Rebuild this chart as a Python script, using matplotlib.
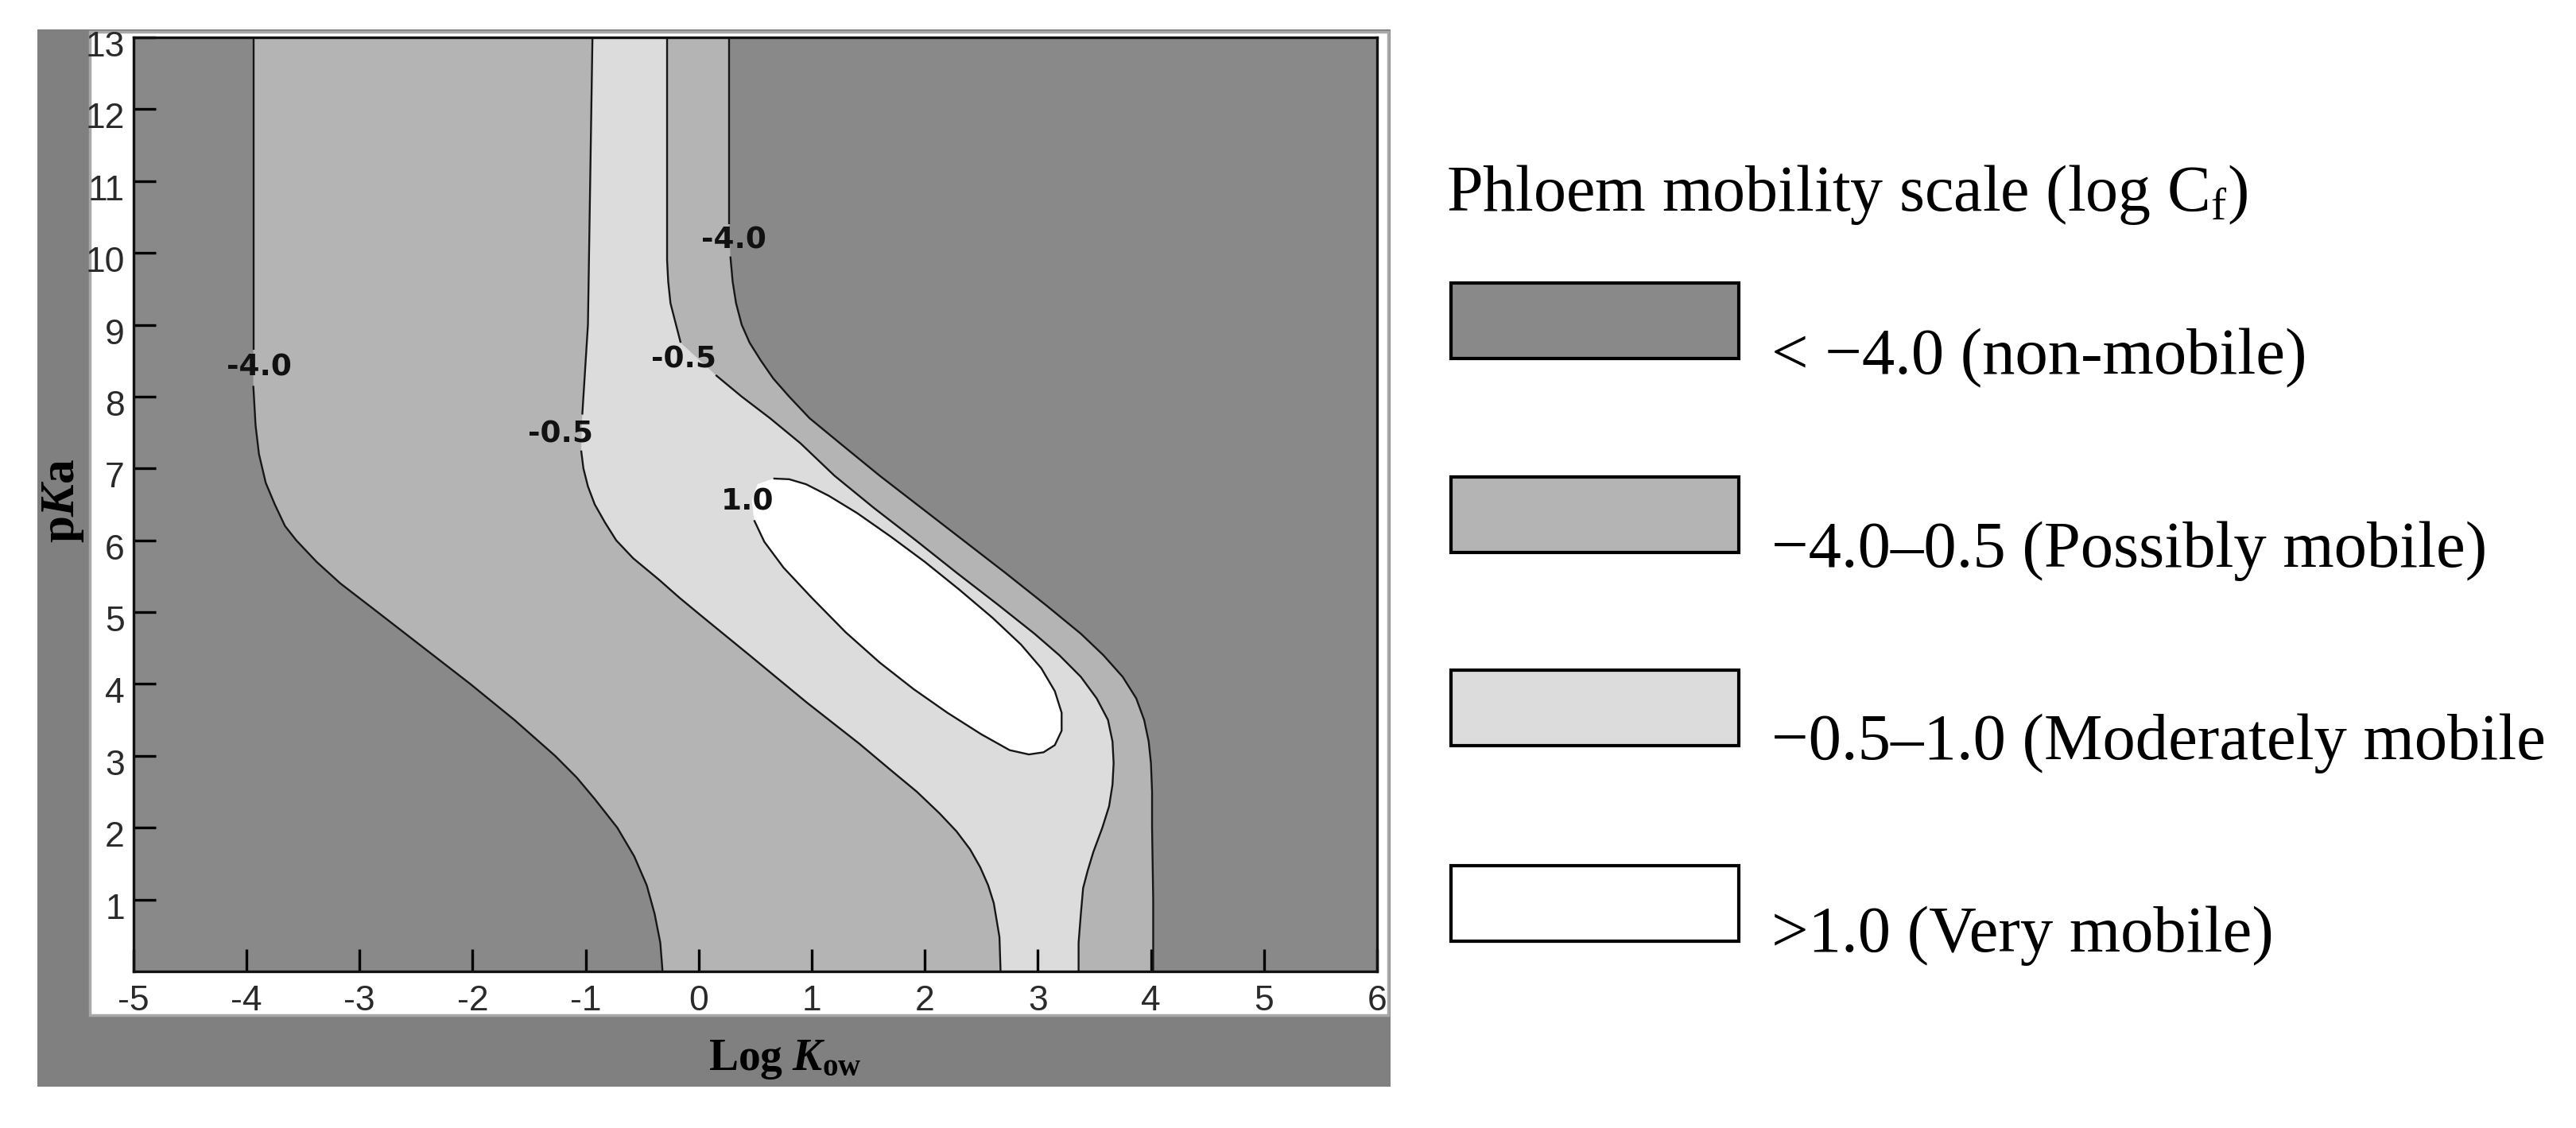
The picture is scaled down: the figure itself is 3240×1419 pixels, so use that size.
import matplotlib
matplotlib.use('agg')

import numpy as np
import matplotlib.pyplot as plt
import matplotlib.transforms as mtransforms
from matplotlib import font_manager
from matplotlib.patches import Rectangle

# contour lines: (log Kow, pKa), top to bottom
left_m4_y = [13.0, 8.65, 8.15, 7.6, 7.2, 6.8, 6.5, 6.2, 6.0, 5.7, 5.4, 5.0, 4.5, 4.0,
             3.5, 3.0, 2.7, 2.4, 2.0, 1.6, 1.2, 0.8, 0.4, 0.0]
left_m4_x = [-3.94, -3.94, -3.94, -3.92, -3.89, -3.83, -3.75, -3.66, -3.56, -3.38, -3.17,
             -2.84, -2.43, -2.02, -1.63, -1.27, -1.08, -0.92, -0.72, -0.57, -0.46, -0.39,
             -0.34, -0.32]

left_m05_y = [13.0, 9.0, 8.0, 7.75, 7.25, 7.0, 6.75, 6.5, 6.25, 6.0, 5.75, 5.45, 5.2, 4.94,
              4.4, 3.75, 3.17, 2.8, 2.5, 2.2, 1.95, 1.7, 1.45, 1.2, 0.95, 0.48, 0.0]
left_m05_x = [-0.94, -0.98, -1.02, -1.03, -1.04, -1.02, -0.98, -0.92, -0.83, -0.73, -0.58,
              -0.35, -0.17, 0.03, 0.45, 0.95, 1.42, 1.70, 1.93, 2.13, 2.28, 2.40, 2.49,
              2.56, 2.61, 2.66, 2.67]

right_m05_y = [13.0, 9.9, 9.6, 9.3, 8.75, 8.3, 8.0, 7.7, 7.35, 6.9, 6.45, 6.0, 5.55, 5.1,
               4.7, 4.4, 4.1, 3.8, 3.5, 3.2, 2.9, 2.6, 2.3, 2.0, 1.66, 1.4, 1.16, 0.8, 0.4, 0.0]
right_m05_x = [-0.28, -0.28, -0.27, -0.25, -0.16, 0.15, 0.38, 0.63, 0.90, 1.20, 1.55, 1.92,
               2.28, 2.65, 2.97, 3.19, 3.38, 3.52, 3.62, 3.66, 3.67, 3.66, 3.63, 3.57, 3.49,
               3.44, 3.40, 3.38, 3.36, 3.36]

right_m4_y = [13.0, 10.4, 9.95, 9.6, 9.3, 9.0, 8.75, 8.5, 8.25, 8.0, 7.7, 7.35, 6.9, 6.45,
              6.0, 5.55, 5.1, 4.7, 4.4, 4.1, 3.8, 3.5, 3.2, 2.9, 2.5, 2.0, 1.0, 0.0]
right_m4_x = [0.27, 0.27, 0.28, 0.30, 0.33, 0.38, 0.45, 0.55, 0.66, 0.80, 0.98, 1.25, 1.60,
              1.97, 2.34, 2.71, 3.07, 3.38, 3.58, 3.75, 3.87, 3.94, 3.98, 4.0, 4.01, 4.01,
              4.02, 4.02]

# closed 1.0 contour, starting right of its label, going clockwise
ell_x = [0.66, 0.80, 0.95, 1.15, 1.40, 1.70, 2.00, 2.30, 2.60, 2.85, 3.03, 3.15, 3.21, 3.21,
         3.15, 3.05, 2.92, 2.75, 2.50, 2.20, 1.90, 1.60, 1.30, 1.00, 0.75, 0.58, 0.49,
         0.47, 0.52]
ell_y = [6.86, 6.85, 6.78, 6.62, 6.38, 6.05, 5.70, 5.32, 4.92, 4.55, 4.22, 3.90, 3.60, 3.35,
         3.15, 3.05, 3.02, 3.08, 3.30, 3.60, 3.93, 4.30, 4.72, 5.20, 5.62, 5.98, 6.28,
         6.55, 6.78]

clabel_text = ['-4.0', '-0.5', '-0.5', '-4.0', '1.0']
clabel_x = [-3.89, -1.22, -0.13, 0.31, 0.43]
clabel_y = [8.40, 7.47, 8.51, 10.17, 6.53]

legend_title = 'Phloem mobility scale (log C$_{\\mathregular{f}}$)'
legend_labels = ['< \u22124.0 (non-mobile)', '\u22124.0\u20130.5 (Possibly mobile)',
                 '\u22120.5\u20131.0 (Moderately mobile', '>1.0 (Very mobile)']
colors = ['#898989', '#b4b4b4', '#dcdcdc', '#ffffff']

names = {f.name for f in font_manager.fontManager.ttflist}
narrow = 'Liberation Sans Narrow' if 'Liberation Sans Narrow' in names else 'Liberation Sans'
tick_size = 35 if narrow == 'Liberation Sans Narrow' else 32

plt.rcParams['mathtext.fontset'] = 'custom'
plt.rcParams['mathtext.rm'] = 'Liberation Serif'
plt.rcParams['mathtext.bf'] = 'Liberation Serif:bold'
plt.rcParams['mathtext.it'] = 'Liberation Serif:italic'
plt.rcParams['mathtext.bfit'] = 'Liberation Serif:italic:bold'

fig = plt.figure(figsize=(32.41, 14.19), dpi=100)

# grey frame around the plot
fig.add_artist(Rectangle((0.0145, 0.0366), 0.5252, 0.9373, transform=fig.transFigure,
                         fc='#808080', ec='none', zorder=0))
fig.add_artist(Rectangle((0.0349, 0.1001), 0.5039, 0.8717, transform=fig.transFigure,
                         fc='white', ec='#a8a8a8', lw=2.5, zorder=0))

ax = fig.add_axes([0.0518, 0.1388, 0.4826, 0.8281])
ax.set_facecolor(colors[0])
ax.set_xlim(-5, 6)
ax.set_ylim(0, 13)

ax.fill(np.r_[left_m4_x, right_m4_x[::-1]], np.r_[left_m4_y, right_m4_y[::-1]],
        color=colors[1], lw=0)
ax.fill(np.r_[left_m05_x, right_m05_x[::-1]], np.r_[left_m05_y, right_m05_y[::-1]],
        color=colors[2], lw=0)
ax.fill(ell_x, ell_y, color=colors[3], lw=0)

line_kw = dict(color='#161616', lw=1.7, solid_capstyle='butt')


def draw_line(xs, ys, lo, hi):
  xs = np.asarray(xs)
  ys = np.asarray(ys)
  up = ys >= hi
  dn = ys <= lo
  ax.plot(xs[up], ys[up], **line_kw)
  ax.plot(xs[dn], ys[dn], **line_kw)


draw_line(left_m4_x, left_m4_y, 8.15, 8.65)
draw_line(left_m05_x, left_m05_y, 7.25, 7.75)
draw_line(right_m05_x, right_m05_y, 8.3, 8.75)
draw_line(right_m4_x, right_m4_y, 9.95, 10.4)
ax.plot(ell_x[:-2], ell_y[:-2], **line_kw)

for t, x, y in zip(clabel_text, clabel_x, clabel_y):
  ax.text(x, y, t, ha='center', va='center', fontsize=27, fontweight='bold',
          family='DejaVu Sans', color='#111111')

ax.set_xticks(range(-5, 7))
ax.set_xticklabels([str(v) for v in range(-5, 7)])
ax.set_yticks(range(1, 14))
ax.set_yticklabels([str(v) for v in range(1, 14)])
ax.tick_params(direction='in', length=20, width=2.4, color='black', labelcolor='#2a2a2a',
               labelsize=tick_size)
ax.tick_params(axis='x', pad=12)
ax.tick_params(axis='y', pad=8)
shift = mtransforms.ScaledTranslation(0, -0.08, fig.dpi_scale_trans)
for lab in ax.get_xticklabels():
  lab.set_family(narrow)
for lab in ax.get_yticklabels():
  lab.set_family(narrow)
  lab.set_transform(lab.get_transform() + shift)
for s in ax.spines.values():
  s.set_linewidth(2.4)
  s.set_color('#111111')

fig.text(0.3045, 0.0606, r'$\mathbf{Log}\ \mathbfit{K}_{\mathbf{ow}}$', ha='center',
         va='center', fontsize=40, color='black')
fig.text(0.0241, 0.556, r'$\mathbf{p}\mathbfit{K}\mathbf{a}$', ha='center', va='center',
         rotation=90, fontsize=44, color='black')

# legend on the right
fig.text(0.5612, 1 - 265 / 1419, legend_title, family='Liberation Serif', fontsize=59,
         va='baseline', ha='left')
box_tops = [356, 600, 843, 1089]
text_base = [470, 713, 955, 1197]
for c, lab, top, base in zip(colors, legend_labels, box_tops, text_base):
  fig.add_artist(Rectangle((1825 / 3241, 1 - (top + 95) / 1419), 362 / 3241, 95 / 1419,
                           transform=fig.transFigure, fc=c, ec='black', lw=3))
  fig.text(2228 / 3241, 1 - base / 1419, lab, family='Liberation Serif', fontsize=59.5,
           va='baseline', ha='left')

plt.savefig('out.png', dpi=100)
